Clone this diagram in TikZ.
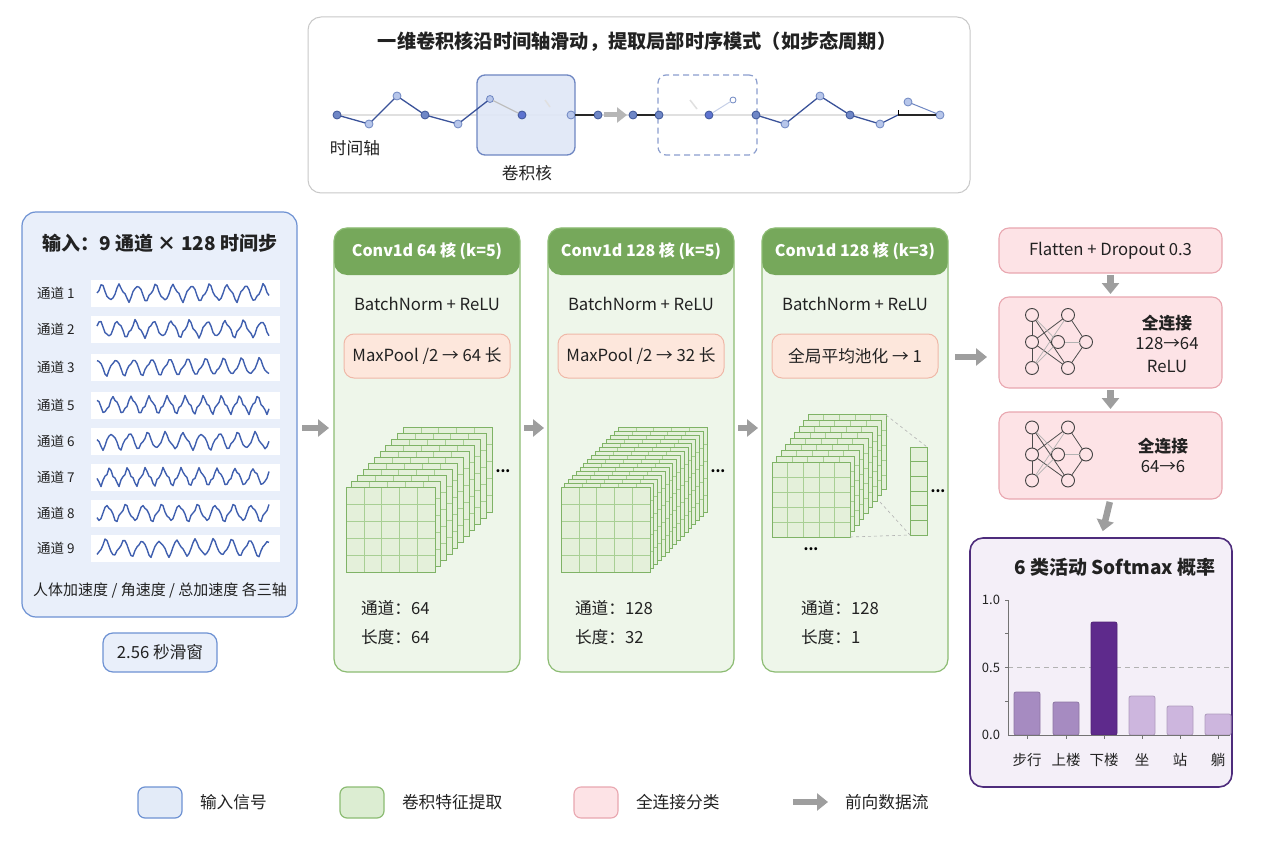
\documentclass[tikz,border=0pt]{standalone}
\usepackage{fontspec}
\setmainfont{Noto Sans CJK SC}
\usetikzlibrary{arrows.meta,calc}
\newcommand\myfs[1]{\fontsize{#1pt}{#1pt}\selectfont}
\definecolor{txt}{HTML}{222222}
\definecolor{topborder}{HTML}{C9C9C9}
\definecolor{inborder}{HTML}{6E92D3}
\definecolor{infill}{HTML}{E9EFFA}
\definecolor{inlegfill}{HTML}{E3EBF8}
\definecolor{kfill}{HTML}{DFE7F7}
\definecolor{wavecol}{HTML}{3F5FAF}
\definecolor{gborder}{HTML}{8CBC73}
\definecolor{ghead}{HTML}{76A85B}
\definecolor{gfill}{HTML}{EEF6EA}
\definecolor{glegfill}{HTML}{DCEDD2}
\definecolor{cubefill}{HTML}{E4F0DA}
\definecolor{cubeedge}{HTML}{7FB366}
\definecolor{cubegrid}{HTML}{A8CF94}
\definecolor{pillfill}{HTML}{FDE7DC}
\definecolor{pillborder}{HTML}{EFB8A8}
\definecolor{pinkfill}{HTML}{FDE3E6}
\definecolor{pinkborder}{HTML}{E9A7B0}
\definecolor{purpfill}{HTML}{F4EFF8}
\definecolor{purpborder}{HTML}{4E2C7C}
\definecolor{arrowgray}{HTML}{9E9E9E}
\definecolor{ptfill}{HTML}{6F87C6}
\definecolor{ptdraw}{HTML}{3D5597}
\definecolor{ptlfill}{HTML}{B7C6EA}
\definecolor{ptldraw}{HTML}{6E86C2}
\definecolor{linedark}{HTML}{3A5299}
\definecolor{barmid}{HTML}{A68BC1}
\definecolor{bardark}{HTML}{5E2A8C}
\definecolor{barlight}{HTML}{CDB6DE}
% layered feature-map cube: x0, y0 (top of front face), w, h, layers, dx, dy
\newcommand\featcube[7]{%
  \foreach \kk in {0,...,#5}{%
    \pgfmathsetmacro\cx{#1+(#5-\kk)*#6}%
    \pgfmathsetmacro\cy{#2-(#5-\kk)*#7}%
    \fill[cubefill] (\cx,\cy) rectangle ++(#3,#4);
    \foreach \j in {1,2,3,4}{%
      \draw[cubegrid, line width=0.6pt] ({\cx+\j*#3/5},\cy) -- ++(0,#4);
      \draw[cubegrid, line width=0.6pt] (\cx,{\cy+\j*#4/5}) -- ++(#3,0);
    }
    \draw[cubeedge, line width=0.9pt] (\cx,\cy) rectangle ++(#3,#4);
  }%
}
% small network icon: y shift, prefix
\newcommand\netico[2]{%
  \node[neuron] (#2a) at (1032,{315+#1}) {};
  \node[neuron] (#2b) at (1032,{342+#1}) {};
  \node[neuron] (#2c) at (1032,{368+#1}) {};
  \node[neuron] (#2t) at (1068,{315+#1}) {};
  \node[neuron] (#2m) at (1058,{342+#1}) {};
  \node[neuron] (#2r) at (1086,{342+#1}) {};
  \node[neuron] (#2d) at (1068,{368+#1}) {};
  \draw[syn] (#2a) -- (#2b);
  \draw[syn] (#2b) -- (#2c);
  \draw[syn] (#2b) -- (#2t);
  \draw[syn] (#2a) -- (#2d);
  \draw[syn] (#2b) -- (#2d);
  \draw[syn] (#2t) -- (#2r);
  \draw[syn] (#2d) -- (#2r);
  \draw[synl] (#2a) -- (#2m);
  \draw[synl] (#2c) -- (#2m);
  \draw[synl] (#2c) -- (#2t);
  \draw[synl] (#2m) -- (#2r);
}
\newcommand\mydots{\bfseries ...}
\begin{document}
\begin{tikzpicture}[x=1pt,y=-1pt,
  every node/.style={inner sep=0pt, outer sep=0pt, text=txt},
  font={\myfs{16.7}},
  topbox/.style={rectangle, draw=topborder, line width=1pt, fill=white, rounded corners=13pt},
  inbox/.style={rectangle, draw=inborder, line width=1.2pt, fill=infill, rounded corners=14pt},
  convbox/.style={rectangle, draw=gborder, line width=1.2pt, fill=gfill, rounded corners=13pt,
     path picture={\fill[ghead] (path picture bounding box.north west) rectangle ([yshift=-47pt]path picture bounding box.north east);}},
  greenbox/.style={rectangle, draw=gborder, line width=1.2pt, fill=glegfill, rounded corners=7pt},
  pill/.style={rectangle, draw=pillborder, line width=1pt, fill=pillfill, rounded corners=10pt},
  pinkbox/.style={rectangle, draw=pinkborder, line width=1.1pt, fill=pinkfill, rounded corners=10pt},
  purpbox/.style={rectangle, draw=purpborder, line width=1.6pt, fill=purpfill, rounded corners=13pt},
  farrow/.style={draw=arrowgray, line width=6.5pt, -{Triangle[length=11pt,width=17pt]}},
  dpt/.style={circle, minimum size=8pt, fill=ptfill, draw=ptdraw, line width=0.8pt},
  lpt/.style={circle, minimum size=8pt, fill=ptlfill, draw=ptldraw, line width=0.8pt},
  neuron/.style={circle, minimum size=13pt, draw=black!75, line width=0.9pt, fill=pinkfill},
  syn/.style={draw=black!70, line width=0.8pt},
  synl/.style={draw=black!30, line width=0.7pt},
  sigbox/.style={rectangle, fill=white, minimum width=189pt, minimum height=27pt},
  bar/.style={rectangle, minimum width=26pt, rounded corners=2pt, line width=0.8pt, anchor=south},
  headtxt/.style={text=white, font={\myfs{16}\bfseries}},
  dotsnode/.style={font={\myfs{14}}, text=black},
]
\useasboundingbox (0,0) rectangle (1280,853);
\fill[white] (0,0) rectangle (1280,853);
\coordinate (r428) at (0,428);
\coordinate (r357) at (0,357);

% ================= top panel =================
\node[topbox, minimum width=662pt, minimum height=176pt] (toppanel) at (639,105) {};
\node[font={\myfs{19.2}\bfseries}] (toptitle) at (637,42) {一维卷积核沿时间轴滑动，提取局部时序模式（如步态周期）};
\coordinate (axL) at (337,115);
\coordinate (axR) at (940,115);
\draw[black!12, line width=1.5pt] (axL) -- (axR);
\node[rectangle, draw=ptldraw, line width=1.3pt, fill=kfill, fill opacity=0.9, rounded corners=8pt, minimum width=98pt, minimum height=80pt] (kernel) at (526,115) {};
\node[rectangle, draw=ptldraw!80, dashed, dash pattern=on 6pt off 4pt, line width=1.2pt, rounded corners=8pt, minimum width=99pt, minimum height=80pt] (kernel2) at (707.5,115) {};
\node[dpt] (t1) at (337,115) {};
\node[lpt] (t2) at (369,124) {};
\node[lpt] (t3) at (397,96) {};
\node[dpt] (t4) at (425,115) {};
\node[lpt] (t5) at (458,124) {};
\node[lpt, minimum size=7pt] (t6) at (490,99) {};
\node[dpt, fill=ptfill!85!blue] (t7) at (522,115) {};
\node[lpt] (t8) at (571,115) {};
\node[dpt] (t9) at (598,115) {};
\node[dpt] (t10) at (633,115) {};
\node[dpt] (t11) at (659,115) {};
\node[dpt, fill=ptfill!85!blue] (t12) at (709,115) {};
\node[lpt, minimum size=6pt, fill=white] (t13) at (733,100) {};
\node[dpt] (t14) at (756,115) {};
\node[lpt] (t15) at (785,124) {};
\node[lpt] (t16) at (820,96) {};
\node[dpt] (t17) at (850,115) {};
\node[lpt] (t18) at (880,124) {};
\node[lpt] (t19) at (908,102) {};
\node[lpt] (t20) at (940,115) {};
\coordinate (tk) at (898,115);
\draw[linedark, line width=1.3pt] (t1) -- (t2) -- (t3) -- (t4) -- (t5) -- (t6);
\draw[black!25, line width=1.2pt] (t6) -- (t7);
\draw[black!85, line width=1.2pt] (t8) -- (t9) (t10) -- (t11);
\draw[farrow, draw=arrowgray!75, line width=5pt, -{Triangle[length=10pt,width=15pt]}, shorten <=2pt, shorten >=2pt] (t9) -- (t10);
\draw[ptldraw!40, line width=1pt] (t12) -- (t13);
\draw[linedark, line width=1.3pt] (t14) -- (t15) -- (t16) -- (t17) -- (t18) -- (tk);
\draw[black!85, line width=1.2pt] (tk) -- (t20);
\draw[ptldraw, line width=1pt] (t19) -- (t20);
\draw[black, line width=1pt] (tk) -- ++(0,-5);
\coordinate (gh1) at (545,100);
\coordinate (gh2) at (690,100);
\draw[black!12, line width=1.5pt] (gh1) -- ++(5,7);
\draw[black!12, line width=1.5pt] (gh2) -- ++(7,9);
\node (axislabel) at (355,148) {时间轴};
\node (kernellabel) at (527,173) {卷积核};

% ================= input panel =================
\node[inbox, minimum width=275pt, minimum height=405pt] (input) at (159.5,414.5) {};
\node[font={\myfs{19}\bfseries}] (intitle) at (160,243) {输入：9 通道 × 128 时间步};
\foreach \yy/\lab/\ph/\fq [count=\i] in {293/1/0/47, 329/2/40/53, 367/3/80/41, 405/5/120/59, 441/6/160/44, 477/7/200/61, 513/8/240/50, 548/9/280/37}{
  \node[anchor=west, font={\myfs{13.5}}] (ch\i) at (37,\yy) {通道 \lab};
  \node[sigbox] (sig\i) at (185.5,\yy) {};
  \draw[wavecol, line width=1.4pt, line join=round] plot[domain=0:172, samples=87] ({97+\x}, {\yy - 9*asin(sin(\x*20+\ph))/90 + 1.6*sin(\x*\fq+\ph)});
}
\node[font={\myfs{15}}] (innote) at (160,590) {人体加速度 / 角速度 / 总加速度 各三轴};
\node[inbox, rounded corners=10pt, minimum width=114pt, minimum height=39pt] (window) at (160,652.5) {2.56 秒滑窗};

% ================= conv block 1 =================
\node[convbox, minimum width=186pt, minimum height=444pt] (conv1) at (427,450) {};
\node[headtxt] (conv1h) at (427,251) {Conv1d 64 核 (k=5)};
\node (conv1bn) at (427,304) {BatchNorm + ReLU};
\node[pill, minimum width=166pt, minimum height=44pt] (pool1) at (427,356) {MaxPool /2 → 64 长};
\featcube{346}{487}{89}{85}{10}{5.7}{6}
\node[dotsnode] (dots1) at (503,471) {\mydots};
\node[anchor=west] (c1ch) at (361,608) {通道：64};
\node[anchor=west] (c1len) at (361,637) {长度：64};

% ================= conv block 2 =================
\node[convbox, minimum width=186pt, minimum height=444pt] (conv2) at (641,450) {};
\node[headtxt] (conv2h) at (641,251) {Conv1d 128 核 (k=5)};
\node (conv2bn) at (641,304) {BatchNorm + ReLU};
\node[pill, minimum width=166pt, minimum height=44pt] (pool2) at (641,356) {MaxPool /2 → 32 长};
\featcube{561}{487}{89}{85}{15}{3.8}{4}
\node[dotsnode] (dots2) at (718,471) {\mydots};
\node[anchor=west] (c2ch) at (575,608) {通道：128};
\node[anchor=west] (c2len) at (575,637) {长度：32};

% ================= conv block 3 =================
\node[convbox, minimum width=186pt, minimum height=444pt] (conv3) at (855,450) {};
\node[headtxt] (conv3h) at (855,251) {Conv1d 128 核 (k=3)};
\node (conv3bn) at (855,304) {BatchNorm + ReLU};
\node[pill, minimum width=166pt, minimum height=44pt] (pool3) at (855,356) {全局平均池化 → 1};
\featcube{772}{462}{78}{75}{8}{4.5}{5.9}
\node[rectangle, draw=cubeedge, fill=cubefill, line width=0.9pt, minimum width=17pt, minimum height=88pt] (vec) at (918.5,491) {};
\foreach \j in {1,...,5}{
  \draw[cubeedge, line width=0.6pt] ($(vec.north west)+(0,{\j*88/6})$) -- ($(vec.north east)+(0,{\j*88/6})$);
}
\coordinate (cbtr) at (886,415);
\coordinate (cbmr) at (880,502);
\coordinate (cfbr) at (850,537);
\draw[black!30, dashed, line width=0.6pt] (cbtr) -- (vec.north east);
\draw[black!30, dashed, line width=0.6pt] (cbmr) -- (vec.south west);
\draw[black!30, dashed, line width=0.6pt] (cfbr) -- (vec.south west);
\node[dotsnode] (dots3) at (938,491) {\mydots};
\node[dotsnode] (dots4) at (811,549) {\mydots};
\node[anchor=west] (c3ch) at (801,608) {通道：128};
\node[anchor=west] (c3len) at (801,637) {长度：1};

% ================= FC column =================
\node[pinkbox, minimum width=223pt, minimum height=45pt] (flatten) at (1110.5,250.5) {Flatten + Dropout 0.3};
\node[pinkbox, minimum width=223pt, minimum height=91pt] (fc1) at (1110.5,342.5) {};
\netico{0}{na}
\node[font={\myfs{16.7}\bfseries}] (fc1a) at (1167,323) {全连接};
\node (fc1b) at (1167,344) {128→64};
\node (fc1c) at (1167,366) {ReLU};
\node[pinkbox, minimum width=223pt, minimum height=87pt] (fc2) at (1110.5,455.5) {};
\netico{112.5}{nb}
\node[font={\myfs{16.7}\bfseries}] (fc2a) at (1163,446) {全连接};
\node (fc2b) at (1163,467) {64→6};

% ================= softmax panel =================
\node[purpbox, minimum width=262pt, minimum height=249pt] (softmax) at (1101,662.5) {};
\node[font={\myfs{19}\bfseries}] (smtitle) at (1115,567) {6 类活动 Softmax 概率};
\coordinate (ax0) at (1008,735);
\coordinate (ax1) at (1008,600);
\coordinate (axr) at (1230,735);
\coordinate (hl0) at (1008,667.5);
\coordinate (hl1) at (1230,667.5);
\draw[black!30, dash pattern=on 5pt off 4pt, line width=0.7pt] (hl0) -- (hl1);
\foreach \t in {600,633.75,667.5,701.25}{ \draw[black!55, line width=0.7pt] (1005,\t) -- ++(3,0); }
\node[anchor=east, font={\myfs{13}}] (yl1) at (1000,600) {1.0};
\node[anchor=east, font={\myfs{13}}] (yl2) at (1000,667.5) {0.5};
\node[anchor=east, font={\myfs{13}}] (yl3) at (1000,735) {0.0};
\node[bar, fill=barmid, draw=barmid!85!black, minimum height=43pt] (bar1) at (1027,735) {};
\node[bar, fill=barmid, draw=barmid!85!black, minimum height=33pt] (bar2) at (1066,735) {};
\node[bar, fill=bardark, draw=bardark!85!black, minimum height=113pt] (bar3) at (1104,735) {};
\node[bar, fill=barlight, draw=barlight!85!black, minimum height=39pt] (bar4) at (1142,735) {};
\node[bar, fill=barlight, draw=barlight!85!black, minimum height=29pt] (bar5) at (1180,735) {};
\node[bar, fill=barlight, draw=barlight!85!black, minimum height=21pt] (bar6) at (1218,735) {};
\draw[black!55, line width=0.9pt] (ax1) -- (ax0) -- (axr);
\foreach \b in {1,...,6}{ \draw[black!55, line width=0.7pt] (bar\b.south) -- ++(0,4); }
\node[font={\myfs{14.5}}] (cl1) at (1027,760) {步行};
\node[font={\myfs{14.5}}] (cl2) at (1066,760) {上楼};
\node[font={\myfs{14.5}}] (cl3) at (1104,760) {下楼};
\node[font={\myfs{14.5}}] (cl4) at (1142,760) {坐};
\node[font={\myfs{14.5}}] (cl5) at (1180,760) {站};
\node[font={\myfs{14.5}}] (cl6) at (1218,760) {躺};

% ================= flow arrows =================
\draw[farrow, shorten <=5pt, shorten >=5pt] (input.east |- r428) -- (conv1.west |- r428);
\draw[farrow, shorten <=4pt, shorten >=4pt] (conv1.east |- r428) -- (conv2.west |- r428);
\draw[farrow, shorten <=4pt, shorten >=4pt] (conv2.east |- r428) -- (conv3.west |- r428);
\draw[farrow, shorten <=7pt, shorten >=12pt] (conv3.east |- r357) -- (flatten.west |- r357);
\draw[farrow, shorten <=2pt, shorten >=3pt] (flatten.south) -- (fc1.north);
\draw[farrow, shorten <=2pt, shorten >=3pt] (fc1.south) -- (fc2.north);
\draw[farrow, shorten <=3pt, shorten >=7pt] (fc2.south) -- (softmax.north);

% ================= legend =================
\node[inbox, fill=inlegfill, rounded corners=7pt, minimum width=44pt, minimum height=31pt] (leg1) at (160,802.5) {};
\node[anchor=west, font={\myfs{16.7}}] (leg1t) at (200,802) {输入信号};
\node[greenbox, minimum width=44pt, minimum height=31pt] (leg2) at (362,802.5) {};
\node[anchor=west, font={\myfs{16.7}}] (leg2t) at (402,802) {卷积特征提取};
\node[pinkbox, rounded corners=7pt, minimum width=44pt, minimum height=31pt] (leg3) at (596,802.5) {};
\node[anchor=west, font={\myfs{16.7}}] (leg3t) at (636,802) {全连接分类};
\coordinate (la1) at (793,802);
\coordinate (la2) at (828,802);
\draw[farrow] (la1) -- (la2);
\node[anchor=west, font={\myfs{16.7}}] (leg4t) at (845,802) {前向数据流};
\end{tikzpicture}
\end{document}
